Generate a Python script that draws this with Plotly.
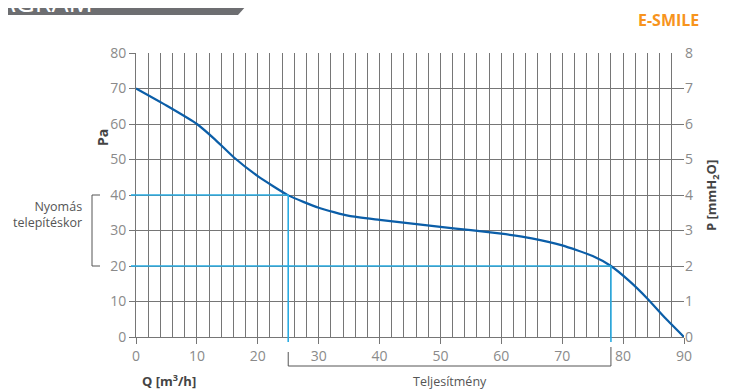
import plotly.graph_objects as go

# ---- data ----
q_values = [0, 5, 10, 13, 16, 20, 25, 30, 35, 40, 45, 50, 55, 60, 65, 70, 75, 78, 81, 84, 87, 90]
pa_values = [70, 65.2, 60, 55.6, 50.7, 45.3, 39.9, 36.4, 34.1, 33.0, 32.0, 31.0, 30.1, 29.1, 27.8, 25.8, 22.8, 20, 15.8, 10.8, 5.2, 0]
op_low = (25, 40)     # operating point 1 (Q, Pa)
op_high = (78, 20)    # operating point 2 (Q, Pa)
x_ticks = [0, 10, 20, 30, 40, 50, 60, 70, 80, 90]
y_ticks = [0, 10, 20, 30, 40, 50, 60, 70, 80]
y2_ticks = [0, 1, 2, 3, 4, 5, 6, 7, 8]

# ---- layout geometry (page pixels; the page body adds an 8px offset) ----
OFF = 8
PW, PH = 729, 390
L, R, T, B = 136, 684, 53, 337
def fx(px): return (px - L) / (R - L)
def fy(py): return (B - py) / (B - T)

GRID = "#767676"
TXT = "#8a8a8a"
DARK = "#555555"
BLUE = "#29abe2"
CURVE = "#0b5ea8"
FONT = "Open Sans"

fig = go.Figure()
fig.add_trace(go.Scatter(x=q_values, y=pa_values, mode="lines",
                         line=dict(color=CURVE, width=2.2, shape="spline", smoothing=0.5),
                         hoverinfo="skip", showlegend=False))
fig.add_trace(go.Scatter(x=[0], y=[0], yaxis="y2", mode="none", hoverinfo="skip", showlegend=False))

shapes = []
for (qx, py_) in (op_low, op_high):
    shapes.append(dict(type="line", xref="x", yref="y", x0=0, x1=qx, y0=py_, y1=py_,
                       line=dict(color=BLUE, width=1.6), layer="above"))
    shapes.append(dict(type="line", xref="x", yref="y", x0=qx, x1=qx, y0=0, y1=py_,
                       line=dict(color=BLUE, width=1.6), layer="above"))
    shapes.append(dict(type="line", xref="paper", yref="paper", x0=fx(131), x1=fx(L), y0=py_ / 80, y1=py_ / 80,
                       line=dict(color=BLUE, width=1.6)))
    shapes.append(dict(type="line", xref="paper", yref="paper", x0=qx / 90, x1=qx / 90, y0=fy(342), y1=0,
                       line=dict(color=BLUE, width=1.6)))

# left bracket
shapes.append(dict(type="path", xref="paper", yref="paper",
                   path=f"M {fx(100)},{fy(195)} L {fx(92)},{fy(195)} L {fx(92)},{fy(266)} L {fx(100)},{fy(266)}",
                   line=dict(color=DARK, width=1)))
# bottom bracket
bx0 = op_low[0] / 90
bx1 = op_high[0] / 90
shapes.append(dict(type="path", xref="paper", yref="paper",
                   path=f"M {bx0},{fy(352)} L {bx0},{fy(366)} L {bx1},{fy(366)} L {bx1},{fy(347)}",
                   line=dict(color=DARK, width=1)))
# header banner
shapes.append(dict(type="path", xref="paper", yref="paper",
                   path=f"M {fx(-5)},{fy(-5)} L {fx(256)},{fy(-5)} L {fx(238)},{fy(15)} L {fx(-5)},{fy(15)} Z",
                   fillcolor="#6d6e71", line=dict(width=0)))

annotations = [
    dict(text="DIAGRAM", xref="paper", yref="paper", x=fx(95), y=fy(22), xanchor="right", yanchor="bottom",
         showarrow=False, font=dict(family=FONT, size=27, color="white")),
    dict(text="<b>E-SMILE</b>", xref="paper", yref="paper", x=fx(701), y=fy(20), xanchor="right", yanchor="middle",
         showarrow=False, font=dict(family=FONT, size=16, color="#f7941d")),
    dict(text="Nyomás<br>telepítéskor", xref="paper", yref="paper", x=fx(84), y=fy(214), xanchor="right",
         yanchor="middle", align="right", showarrow=False, font=dict(family=FONT, size=12.5, color=DARK)),
    dict(text="Teljesítmény", xref="paper", yref="paper", x=(bx0 + bx1) / 2, y=fy(381), xanchor="center",
         yanchor="middle", showarrow=False, font=dict(family=FONT, size=12.5, color=DARK)),
    dict(text="<b>Pa</b>", xref="paper", yref="paper", x=fx(102), y=fy(138), textangle=-90,
         xanchor="center", yanchor="middle", showarrow=False, font=dict(family=FONT, size=14, color="#444444")),
    dict(text="<b>P [mmH<sub>2</sub>O]</b>", xref="paper", yref="paper", x=fx(712), y=fy(196), textangle=-90,
         xanchor="center", yanchor="middle", showarrow=False, font=dict(family=FONT, size=13, color="#444444")),
    dict(text="<b>Q [m<sup>3</sup>/h]</b>", xref="paper", yref="paper", x=fx(169), y=fy(380),
         xanchor="center", yanchor="middle", showarrow=False, font=dict(family=FONT, size=13, color="#444444")),
]

fig.update_layout(
    width=PW - OFF, height=PH - OFF,
    margin=dict(l=L - OFF, r=PW - R, t=T - OFF, b=PH - B, pad=0),
    paper_bgcolor="white", plot_bgcolor="white",
    font=dict(family=FONT, color=TXT, size=14),
    xaxis=dict(range=[0, 90], tickvals=x_ticks, ticks="outside", ticklen=6, tickcolor=GRID,
               showgrid=True, gridcolor=GRID, gridwidth=1,
               minor=dict(dtick=2, showgrid=True, gridcolor=GRID, gridwidth=1, ticks=""),
               showline=True, linecolor=GRID, linewidth=1, zeroline=False,
               tickfont=dict(size=14, color=TXT), fixedrange=True),
    yaxis=dict(range=[0, 80], tickvals=y_ticks, ticks="outside", ticklen=6, tickcolor=GRID,
               showgrid=True, gridcolor=GRID, gridwidth=1, showline=True, linecolor=GRID,
               linewidth=1, zeroline=False, tickfont=dict(size=14, color=TXT), fixedrange=True),
    yaxis2=dict(range=[0, 8], tickvals=y2_ticks, overlaying="y", side="right", showgrid=False,
                zeroline=False, showline=False, ticks="", tickfont=dict(size=14, color=TXT),
                fixedrange=True),
    shapes=shapes, annotations=annotations, showlegend=False,
)

fig.write_html("out.html")
